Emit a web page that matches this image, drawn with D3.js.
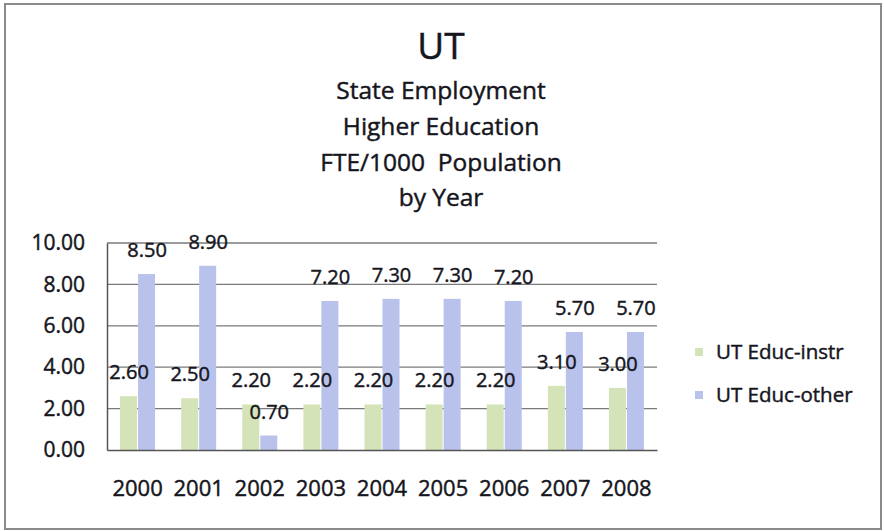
<!DOCTYPE html>
<html><head><meta charset="utf-8">
<script src="https://cdn.jsdelivr.net/npm/d3@7"></script>
<style>body{margin:0;background:#fff}svg{display:block}</style>
</head><body>
<svg id="c" width="884" height="531"></svg>
<script>
const years = ["2000","2001","2002","2003","2004","2005","2006","2007","2008"];
const instr = [2.60,2.50,2.20,2.20,2.20,2.20,2.20,3.10,3.00];
const other = [8.50,8.90,0.70,7.20,7.30,7.30,7.20,5.70,5.70];
const seriesNames = ["UT Educ-instr","UT Educ-other"];
const yTicks = [0,2,4,6,8,10];
const titleLines = ["UT","State Employment","Higher Education","FTE/1000  Population","by Year"];

const svg = d3.select("#c");
const colors = ["#d5e3b8","#b9c2ea"];
const font = "'Open Sans', sans-serif";
const ink = "#16161e";
const sw = 0.45;

svg.append("rect").attr("x",5).attr("y",4).attr("width",876).attr("height",525)
  .attr("fill","#fff").attr("stroke","#8a8a8a").attr("stroke-width",2);

const x = d3.scaleBand().domain(years).range([107,657]).padding(0);
const y = d3.scaleLinear().domain([0,10]).range([450,243]);
const bw = 17;

// gridlines
svg.append("g").selectAll("line").data(yTicks.filter(d=>d>0)).join("line")
  .attr("x1",107).attr("x2",657).attr("y1",d=>y(d)).attr("y2",d=>y(d))
  .attr("stroke","#7a7a7a").attr("stroke-width",1.3);

const data = years.map((yr,i)=>({yr, v:[instr[i],other[i]]}));
const g = svg.append("g");
[0,1].forEach(s=>{
  g.selectAll(".b"+s).data(data).join("rect")
    .attr("x",d=>x(d.yr)+x.bandwidth()/2 - bw + s*(bw+1) - 0.5)
    .attr("y",d=>y(d.v[s])).attr("width",bw).attr("height",d=>y(0)-y(d.v[s]))
    .attr("fill",colors[s]);
});

function ink_(sel){ sel.attr("fill",ink).attr("stroke",ink).attr("stroke-width",sw).attr("font-family",font); }

// axes
const yAxis = d3.axisLeft(y).tickValues(yTicks).tickFormat(d3.format(".2f")).tickSize(0).tickPadding(22);
const ya = svg.append("g").attr("transform","translate(107,0)").call(yAxis);
ya.select(".domain").attr("stroke","#555").attr("stroke-width",1.5);
ya.selectAll("text").call(ink_).attr("font-size",21);

const xAxis = d3.axisBottom(x).tickSize(0).tickPadding(46);
const xa = svg.append("g").attr("transform","translate(0,450)").call(xAxis);
xa.select(".domain").attr("stroke","#555").attr("stroke-width",1.5);
xa.selectAll("text").call(ink_).attr("font-size",22).attr("dy","0");

// value labels
[0,1].forEach(s=>{
  g.selectAll(".l"+s).data(data).join("text")
    .attr("x",d=>x(d.yr)+x.bandwidth()/2 - bw/2 + s*(bw+1))
    .attr("y",d=>y(d.v[s]) - 24)
    .attr("dy","0.35em").attr("text-anchor","middle")
    .call(ink_).attr("font-size",20)
    .text(d=>d.v[s].toFixed(2));
});

// titles
const ty = [46,90,126,162,197];
svg.append("g").selectAll("text").data(titleLines).join("text")
  .attr("x",441).attr("y",(d,i)=>ty[i]).attr("dy","0.35em").attr("text-anchor","middle")
  .call(ink_).attr("font-size",(d,i)=>i===0?37:24.5)
  .attr("xml:space","preserve").style("white-space","pre")
  .text(d=>d);

// legend
const lg = svg.append("g");
seriesNames.forEach((n,i)=>{
  const ly = 352 + i*43;
  lg.append("rect").attr("x",695).attr("y",ly-4).attr("width",8).attr("height",8).attr("fill",colors[i]);
  lg.append("text").attr("x",716).attr("y",ly).attr("dy","0.35em")
    .call(ink_).attr("font-size",20.5).text(n);
});
</script>
</body></html>
